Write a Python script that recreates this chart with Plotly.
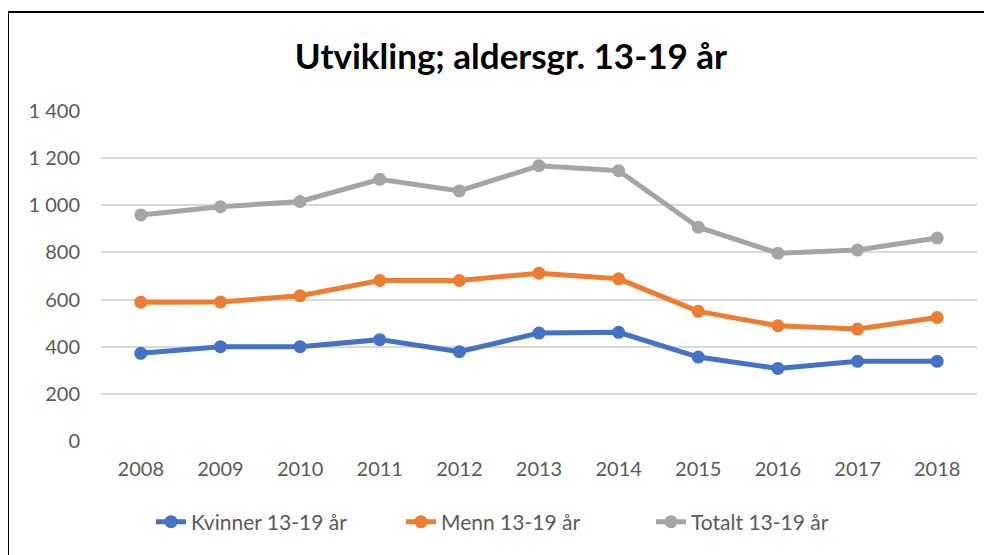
import plotly.graph_objects as go

years = ["2008", "2009", "2010", "2011", "2012", "2013", "2014", "2015", "2016", "2017", "2018"]
kvinner = [372, 400, 400, 430, 379, 458, 461, 356, 308, 338, 338]
menn = [589, 590, 616, 681, 681, 712, 688, 550, 489, 475, 524]
totalt = [959, 994, 1016, 1110, 1061, 1168, 1147, 907, 797, 810, 861]
y_ticks = [0, 200, 400, 600, 800, 1000, 1200, 1400]
y_tick_labels = ["0", "200", "400", "600", "800", "1 000", "1 200", "1 400"]

series = [
    ("Kvinner 13-19 år", kvinner, "#4472C4"),
    ("Menn 13-19 år", menn, "#ED7D31"),
    ("Totalt 13-19 år", totalt, "#A5A5A5"),
]

FONT = "Lato"
W, H = 984, 547
L, T, PW, PH = 93, 103, 876, 330

fig = go.Figure()
for name, vals, col in series:
    fig.add_trace(go.Scatter(
        x=years, y=vals, name=name, mode="lines+markers",
        line=dict(color=col, width=5),
        marker=dict(color=col, size=13),
    ))

fx = (0 - L) / PW
fy = (T + PH - 4) / PH

fig.update_layout(
    template="none",
    width=W, height=H,
    margin=dict(l=L, r=W - L - PW, t=T, b=H - T - PH, pad=0),
    paper_bgcolor="white", plot_bgcolor="white",
    font=dict(family=FONT, size=20, color="#595959"),
    title=dict(text="<b>Utvikling; aldersgr. 13-19 år</b>", x=503 / W, xanchor="center",
               y=1 - 49 / H, yref="container", yanchor="middle",
               font=dict(family=FONT, size=35, color="black")),
    showlegend=True,
    legend=dict(orientation="h", x=518 / W, xanchor="center", xref="container",
                y=(H - 514) / H, yref="container", yanchor="middle",
                font=dict(family=FONT, size=21, color="#595959"),
                traceorder="normal", entrywidth=205, entrywidthmode="pixels"),
    xaxis=dict(type="category", range=[-0.5, len(years) - 0.5],
               showgrid=False, zeroline=False, showline=False,
               ticks="", ticklabelstandoff=14, automargin=False,
               tickfont=dict(family=FONT, size=20, color="#595959")),
    yaxis=dict(range=[0, 1400], tickvals=y_ticks, ticktext=y_tick_labels,
               showgrid=True, gridcolor="#D9D9D9", gridwidth=1.5,
               zeroline=False, showline=False, ticks="", ticklabelstandoff=20,
               automargin=False,
               tickfont=dict(family=FONT, size=20, color="#595959")),
    shapes=[
        dict(type="line", xref="paper", yref="paper", x0=fx, x1=fx,
             y0=-1, y1=fy, line=dict(color="black", width=2)),
        dict(type="line", xref="paper", yref="paper", x0=fx, x1=1.2,
             y0=fy, y1=fy, line=dict(color="black", width=2)),
    ],
)

fig.write_html("out.html")
